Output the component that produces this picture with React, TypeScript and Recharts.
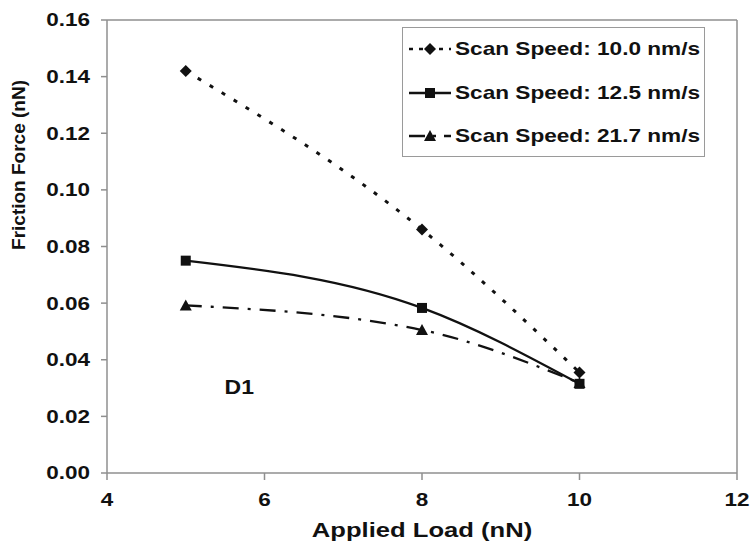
import React from 'react'
import {
  LineChart,
  Line,
  XAxis,
  YAxis,
  ReferenceLine,
  ReferenceDot,
} from 'recharts'

// applied load (nN)
const loads = [5, 8, 10]
// friction force (nN) per scan speed
const speed10 = [0.142, 0.086, 0.0355]
const speed125 = [0.075, 0.0583, 0.0315]
const speed217 = [0.0592, 0.0505, 0.0318]

const xTicks = [4, 6, 8, 10, 12]
const yTicks = [0, 0.02, 0.04, 0.06, 0.08, 0.1, 0.12, 0.14, 0.16]

const seriesNames = [
  'Scan Speed: 10.0 nm/s',
  'Scan Speed: 12.5 nm/s',
  'Scan Speed: 21.7 nm/s',
]

const data = loads.map((load, i) => ({
  load,
  s10: speed10[i],
  s125: speed125[i],
  s217: speed217[i],
}))

const FONT = 'Arial, "Liberation Sans", Helvetica, sans-serif'
const AXIS_GRAY = '#8f8f8f'
const INK = '#111'
const DOTTED = '4 10'
const DASH_DOT = '16 9 3 9'

// the source image is stretched sideways, so text gets a horizontal scale
const StretchText = ({ x, y, anchor = 'middle', size = 18, sx = 1.25, dy = '0.355em', children }: any) => (
  <text
    transform={`translate(${x} ${y}) scale(${sx} 1)`}
    textAnchor={anchor}
    dy={dy}
    fontFamily={FONT}
    fontWeight="bold"
    fontSize={size}
    fill={INK}
  >
    {children}
  </text>
)

const Diamond = ({ cx, cy }: any) =>
  cx == null ? null : (
    <polygon points={`${cx},${cy - 6} ${cx + 6},${cy} ${cx},${cy + 6} ${cx - 6},${cy}`} fill={INK} />
  )

const Square = ({ cx, cy }: any) =>
  cx == null ? null : <rect x={cx - 5} y={cy - 5} width={10} height={10} fill={INK} />

const Triangle = ({ cx, cy }: any) =>
  cx == null ? null : (
    <polygon points={`${cx},${cy - 6} ${cx + 6},${cy + 5} ${cx - 6},${cy + 5}`} fill={INK} />
  )

const LEGEND_ROWS = [
  { name: seriesNames[0], dash: '4 6', Marker: Diamond, width: 2.5 },
  { name: seriesNames[1], dash: undefined, Marker: Square, width: 2.5 },
  { name: seriesNames[2], dash: '16 8 3 8', Marker: Triangle, width: 2.5 },
]

const ChartLegend = () => (
  <div
    style={{
      position: 'absolute',
      left: 402,
      top: 27,
      width: 303,
      height: 130,
      border: '1.5px solid #9a9a9a',
      boxSizing: 'border-box',
      background: '#fff',
    }}
  >
    {LEGEND_ROWS.map((row, i) => (
      <div key={row.name} style={{ position: 'absolute', left: 0, top: 21 + i * 43.5 - 12, height: 24, width: 300 }}>
        <svg width={44} height={24} style={{ position: 'absolute', left: 5, top: 0 }}>
          <line x1={1} y1={12} x2={43} y2={12} stroke={INK} strokeWidth={row.width} strokeDasharray={row.dash} />
          <row.Marker cx={22} cy={12} />
        </svg>
        <span
          style={{
            position: 'absolute',
            left: 52,
            top: 0,
            lineHeight: '24px',
            fontFamily: FONT,
            fontWeight: 'bold',
            fontSize: 19,
            color: INK,
            whiteSpace: 'nowrap',
            transform: 'scaleX(1.19)',
            transformOrigin: 'left center',
          }}
        >
          {row.name}
        </span>
      </div>
    ))}
  </div>
)

export default function App() {
  return (
    <div style={{ position: 'fixed', left: 0, top: 0, width: 750, height: 546, background: '#fff' }}>
      <LineChart width={750} height={546} data={data} margin={{ top: 20, right: 13, left: 0, bottom: 0 }}>
        <XAxis
          dataKey="load"
          type="number"
          domain={[4, 12]}
          ticks={xTicks}
          height={73}
          stroke={AXIS_GRAY}
          strokeWidth={1.5}
          tickSize={7}
          tickMargin={13}
          tick={({ x, y, payload }: any) => (
            <StretchText x={x} y={y} dy="0.71em">
              {payload.value}
            </StretchText>
          )}
          label={{
            content: () => (
              <StretchText x={422} y={530} size={20} sx={1.28}>
                Applied Load (nN)
              </StretchText>
            ),
          }}
        />
        <YAxis
          type="number"
          domain={[0, 0.16]}
          ticks={yTicks}
          width={107}
          stroke={AXIS_GRAY}
          strokeWidth={1.5}
          tickSize={6}
          tickMargin={11}
          tick={({ x, y, payload }: any) => (
            <StretchText x={x} y={y} anchor="end">
              {payload.value.toFixed(2)}
            </StretchText>
          )}
          label={{
            content: () => (
              <text
                transform="translate(18 165) rotate(-90)"
                textAnchor="middle"
                dy="0.355em"
                fontFamily={FONT}
                fontWeight="bold"
                fontSize={19}
                fill={INK}
              >
                Friction Force (nN)
              </text>
            ),
          }}
        />
        <ReferenceLine y={0.16} stroke={AXIS_GRAY} strokeWidth={1.5} />
        <ReferenceLine x={12} stroke={AXIS_GRAY} strokeWidth={1.5} />
        <ReferenceDot
          x={5.68}
          y={0.0305}
          r={0}
          fill="none"
          stroke="none"
          label={{
            content: ({ viewBox }: any) => (
              <StretchText x={viewBox.x + viewBox.width / 2} y={viewBox.y + viewBox.height / 2} size={20} sx={1.15}>
                D1
              </StretchText>
            ),
          }}
        />
        <Line
          name={seriesNames[0]}
          dataKey="s10"
          type="monotone"
          stroke={INK}
          strokeWidth={3}
          strokeDasharray={DOTTED}
          dot={<Diamond />}
          activeDot={false}
          isAnimationActive={false}
        />
        <Line
          name={seriesNames[1]}
          dataKey="s125"
          type="monotone"
          stroke={INK}
          strokeWidth={2.3}
          dot={<Square />}
          activeDot={false}
          isAnimationActive={false}
        />
        <Line
          name={seriesNames[2]}
          dataKey="s217"
          type="monotone"
          stroke={INK}
          strokeWidth={2.3}
          strokeDasharray={DASH_DOT}
          dot={<Triangle />}
          activeDot={false}
          isAnimationActive={false}
        />
      </LineChart>
      <ChartLegend />
    </div>
  )
}
